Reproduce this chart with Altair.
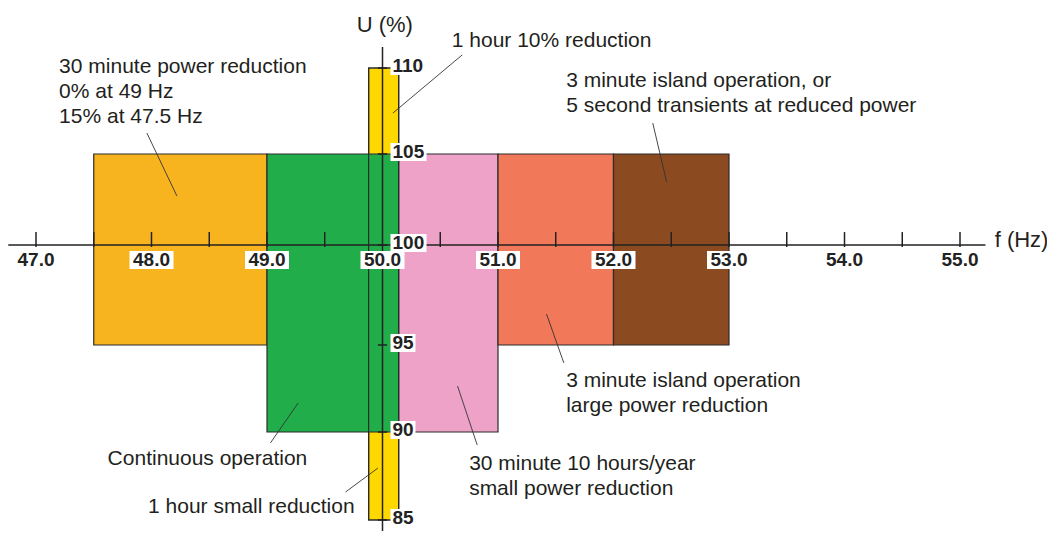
import altair as alt
import pandas as pd

# ---------------- data ----------------
zone_names = ["1 hour small/10% reduction", "30 minute power reduction", "Continuous operation",
              "30 minute 10 hours/year", "3 minute island large reduction", "3 minute island / 5 s transients"]
zone_f_lo = [49.88, 47.5, 49.0, 50.14, 51.0, 52.0]
zone_f_hi = [50.14, 49.0, 50.14, 51.0, 52.0, 53.0]
zone_u_lo = [85, 95, 90, 90, 95, 95]
zone_u_hi = [110, 105, 105, 105, 105, 105]
zone_colors = ["#FFD800", "#F8B41E", "#22AD4B", "#EEA2C8", "#F1795A", "#8C4A20"]

x_tick_values = [47.0, 47.5, 48.0, 48.5, 49.0, 49.5, 50.5, 51.0, 51.5, 52.0,
                 52.5, 53.0, 53.5, 54.0, 54.5, 55.0]
x_label_values = [47.0, 48.0, 49.0, 50.0, 51.0, 52.0, 53.0, 54.0, 55.0]
x_label_texts = ["47.0", "48.0", "49.0", "50.0", "51.0", "52.0", "53.0", "54.0", "55.0"]
y_label_values = [110, 105, 100, 95, 90, 85]
y_label_texts = ["110", "105", "100", "95", "90", "85"]

ann_texts = [
    "30 minute power reduction\n0% at 49 Hz\n15% at 47.5 Hz",
    "1 hour 10% reduction",
    "3 minute island operation, or\n5 second transients at reduced power",
    "3 minute island operation\nlarge power reduction",
    "30 minute 10 hours/year\nsmall power reduction",
    "Continuous operation",
    "1 hour small reduction",
]
ann_f = [47.20, 50.60, 51.59, 51.59, 50.75, 47.62, 47.97]
ann_u = [109.71, 111.22, 108.90, 92.59, 87.84, 88.13, 85.40]

lead_f0 = [47.96, 50.69, 52.34, 51.42, 50.65, 49.27, 49.96]
lead_u0 = [106.22, 110.76, 106.80, 96.55, 92.64, 91.67, 87.95]
lead_f1 = [48.22, 50.09, 52.46, 51.57, 50.82, 49.03, 49.68]
lead_u1 = [102.69, 107.38, 103.46, 93.97, 89.26, 89.38, 86.59]

# ---------------- scales ----------------
# the drawing's U axis is not evenly spaced: a piecewise linear scale follows it
xs = alt.Scale(domain=[46.7576, 55.7532], nice=False, zero=False)
ys = alt.Scale(domain=[85, 90, 95, 100, 105, 110], range=[512, 424, 337, 237, 146, 60],
               nice=False, zero=False)
FONT = "Liberation Sans"
INK = "#222222"


def X(f):
    return alt.X(f, type="quantitative", scale=xs, axis=None)


def Y(f):
    return alt.Y(f, type="quantitative", scale=ys, axis=None)


rect_df = pd.DataFrame(dict(zone=zone_names, f0=zone_f_lo, f1=zone_f_hi, u0=zone_u_lo, u1=zone_u_hi))

rects = alt.Chart(rect_df).mark_rect(stroke="#2b2b2b", strokeWidth=1.2).encode(
    x=X("f0"), x2="f1", y=Y("u0"), y2="u1",
    color=alt.Color("zone:N", scale=alt.Scale(domain=zone_names, range=zone_colors), legend=None),
)

yellow_outline = alt.Chart(rect_df).transform_filter(
    alt.datum.zone == zone_names[0]
).mark_rect(filled=False, stroke="#2b2b2b", strokeWidth=1.2, fillOpacity=0).encode(
    x=X("f0"), x2="f1", y=Y("u0"), y2="u1"
)

xaxis_df = pd.DataFrame(dict(f0=[46.76], f1=[55.22], u=[100.0]))
xaxis = alt.Chart(xaxis_df).mark_rule(color=INK, strokeWidth=1.5).encode(
    x=X("f0"), x2="f1", y=Y("u")
)
yaxis_df = pd.DataFrame(dict(f=[50.0], u0=[111.22], u1=[84.38]))
yaxis = alt.Chart(yaxis_df).mark_rule(color=INK, strokeWidth=1.5).encode(
    x=X("f"), y=Y("u0"), y2="u1"
)

xt_df = pd.DataFrame(dict(f=x_tick_values))
xt_df["u0"] = 99.9
xt_df["u1"] = 100.71
xticks = alt.Chart(xt_df).mark_rule(color=INK, strokeWidth=1.5).encode(
    x=X("f"), y=Y("u0"), y2="u1"
)

yt_df = pd.DataFrame(dict(u=y_label_values))
yt_df["f0"] = 49.96
yt_df["f1"] = 50.04
yticks = alt.Chart(yt_df).mark_rule(color=INK, strokeWidth=1.5).encode(
    x=X("f0"), x2="f1", y=Y("u")
)

lead_df = pd.DataFrame(dict(f0=lead_f0, u0=lead_u0, f1=lead_f1, u1=lead_u1))
leaders = alt.Chart(lead_df).mark_rule(color="#333333", strokeWidth=0.9).encode(
    x=X("f0"), x2="f1", y=Y("u0"), y2="u1"
)

xl_df = pd.DataFrame(dict(f=x_label_values, label=x_label_texts))
xl_df["u"] = 100.0
xl_bg = alt.Chart(xl_df).mark_point(
    shape="M-22,-9H22V9H-22Z", size=4, filled=True, fill="white", opacity=1,
    strokeWidth=0, yOffset=15
).encode(x=X("f"), y=Y("u"))
xl_text = alt.Chart(xl_df).mark_text(
    font=FONT, fontWeight="bold", fontSize=19, color=INK, align="center",
    baseline="middle", dy=15
).encode(x=X("f"), y=Y("u"), text="label:N")

yl_df = pd.DataFrame(dict(u=y_label_values, label=y_label_texts))
yl_df["f"] = 50.0
yl_df["ndig"] = yl_df["label"].str.len()
yl_bg = alt.Chart(yl_df).mark_point(
    size=4, filled=True, fill="white", opacity=1, strokeWidth=0, yOffset=-2
).encode(
    x=X("f"), y=Y("u"),
    shape=alt.Shape("ndig:O", scale=alt.Scale(domain=[2, 3],
                    range=["M8,-9H33V9H8Z", "M8,-9H44V9H8Z"]), legend=None),
)
yl_text = alt.Chart(yl_df).mark_text(
    font=FONT, fontWeight="bold", fontSize=19, color=INK, align="left",
    baseline="middle", dx=10, dy=-2
).encode(x=X("f"), y=Y("u"), text="label:N")

ann_df = pd.DataFrame(dict(f=ann_f, u=ann_u, label=ann_texts))
ann = alt.Chart(ann_df).mark_text(
    font=FONT, fontSize=21, color="#231f20", align="left", baseline="alphabetic",
    lineHeight=25, lineBreak="\n"
).encode(x=X("f"), y=Y("u"), text="label:N")

title_df = pd.DataFrame(dict(f=[50.02], u=[112.09], label=["U (%)"]))
u_title = alt.Chart(title_df).mark_text(
    font=FONT, fontSize=22, color="#231f20", align="center", baseline="alphabetic"
).encode(x=X("f"), y=Y("u"), text="label:N")

ftitle_df = pd.DataFrame(dict(f=[55.30], u=[99.90], label=["f (Hz)"]))
f_title = alt.Chart(ftitle_df).mark_text(
    font=FONT, fontSize=22, color="#231f20", align="left", baseline="alphabetic"
).encode(x=X("f"), y=Y("u"), text="label:N")

chart = alt.layer(
    rects, yellow_outline, xaxis, yaxis, xticks, yticks, leaders,
    xl_bg, xl_text, yl_bg, yl_text, ann, u_title, f_title
).properties(
    width=1039, height=523, autosize=alt.AutoSizeParams(type="none"), padding=0
).configure_view(stroke=None)

chart.save("out.html", embed_options={"renderer": "svg", "actions": False})
